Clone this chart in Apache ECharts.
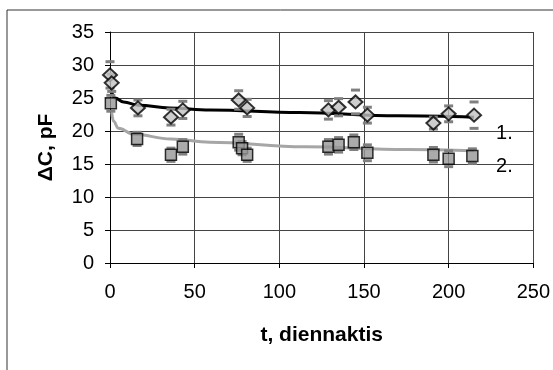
<!DOCTYPE html>
<html>
<head>
<meta charset="utf-8">
<script src="https://cdn.jsdelivr.net/npm/echarts@6/dist/echarts.min.js"></script>
<style>
  html, body { margin: 0; padding: 0; background: #fff; }
  #container { width: 553px; height: 370px; }
</style>
</head>
<body>
<div id="container"></div>
<script type="text/javascript">
// ---- data ----
var xTicks = [0, 50, 100, 150, 200, 250];
var yTicks = [0, 5, 10, 15, 20, 25, 30, 35];

// curve 1 (diamonds)
var t1 = [0, 1, 16.5, 36, 43, 76, 81, 129, 135, 145, 152, 191, 200, 215];
var c1 = [28.5, 27.3, 23.5, 22.1, 23.2, 24.7, 23.5, 23.2, 23.6, 24.4, 22.4, 21.2, 22.6, 22.4];
var e1 = [2.0, 1.3, 1.2, 1.2, 1.3, 1.4, 1.3, 1.4, 1.3, 1.8, 1.2, 0.9, 1.2, 2.0];

// curve 2 (squares)
var t2 = [0.5, 16, 36, 43, 76, 78, 81, 129, 135, 144, 152, 191, 200, 214];
var c2 = [24.2, 18.8, 16.4, 17.6, 18.3, 17.4, 16.4, 17.6, 17.9, 18.3, 16.7, 16.4, 15.8, 16.2];
var e2 = [1.2, 1.0, 1.0, 1.1, 1.2, 1.0, 1.0, 1.1, 1.1, 1.1, 1.2, 1.1, 1.2, 1.1];

// trend lines
var fitT1 = [1, 3, 8, 17, 35, 59, 112, 170, 215];
var fitC1 = [25.9, 25.0, 24.4, 23.9, 23.5, 23.2, 22.8, 22.3, 22.1];
var fitT2 = [1, 2, 5, 14, 36, 59, 115, 175, 215];
var fitC2 = [22.8, 21.5, 20.4, 19.5, 18.8, 18.3, 17.6, 17.2, 17.0];

var seriesNames = ['1.', '2.'];

function pairs(xs, ys) {
    var out = [];
    for (var i = 0; i < xs.length; i++) out.push([xs[i], ys[i]]);
    return out;
}
function errRows(xs, ys, es) {
    var out = [];
    for (var i = 0; i < xs.length; i++) out.push([xs[i], ys[i] - es[i], ys[i] + es[i]]);
    return out;
}

// error bar caps only (short gray dashes above and below)
function renderCaps(params, api) {
    var lo = api.coord([api.value(0), api.value(1)]);
    var hi = api.coord([api.value(0), api.value(2)]);
    var w = 4.5;
    var st = { stroke: '#808080', lineWidth: 3 };
    return {
        type: 'group',
        children: [
            { type: 'line', shape: { x1: lo[0] - w, y1: lo[1], x2: lo[0] + w, y2: lo[1] }, style: st },
            { type: 'line', shape: { x1: hi[0] - w, y1: hi[1], x2: hi[0] + w, y2: hi[1] }, style: st }
        ]
    };
}

var font = 'Liberation Sans, Arial, sans-serif';
var dom = document.getElementById('container');
var myChart = echarts.init(dom);

var option = {
    animation: false,
    backgroundColor: '#fff',
    textStyle: { fontFamily: font },
    graphic: [{
        type: 'rect',
        shape: { x: 7, y: 10, width: 700, height: 500 },
        style: { fill: 'none', stroke: '#333', lineWidth: 1 },
        z: -1
    }],
    grid: { left: 110, right: 19, top: 32, bottom: 107 },
    xAxis: {
        type: 'value',
        min: 0, max: 250, interval: 50,
        name: 't, diennaktis',
        nameLocation: 'middle',
        nameGap: 62,
        nameTextStyle: { fontSize: 21, fontWeight: 'bold', color: '#000', fontFamily: font },
        axisLine: { show: true, onZero: false, lineStyle: { color: '#000', width: 1 } },
        axisTick: { show: true, length: 5, lineStyle: { color: '#000' } },
        axisLabel: {
            fontSize: 20, color: '#000', margin: 19, fontFamily: font,
            formatter: function (v) { return xTicks.indexOf(v) >= 0 ? String(v) : ''; }
        },
        splitLine: { show: true, lineStyle: { color: '#444', width: 1 } }
    },
    yAxis: {
        type: 'value',
        min: 0, max: 35, interval: 5,
        name: 'ΔC, pF',
        nameLocation: 'middle',
        nameGap: 53,
        nameTextStyle: { fontSize: 21, fontWeight: 'bold', color: '#000', fontFamily: font },
        axisLine: { show: true, lineStyle: { color: '#000', width: 1 } },
        axisTick: { show: true, length: 5, lineStyle: { color: '#000' } },
        axisLabel: {
            fontSize: 20, color: '#000', margin: 16, fontFamily: font,
            formatter: function (v) { return yTicks.indexOf(v) >= 0 ? String(v) : ''; }
        },
        splitLine: { show: true, lineStyle: { color: '#444', width: 1 } }
    },
    series: [
        {
            name: seriesNames[0] + 'fit',
            type: 'line',
            data: pairs(fitT1, fitC1),
            smooth: 0.4,
            smoothMonotone: 'x',
            showSymbol: false,
            lineStyle: { color: '#000', width: 3 },
            endLabel: {
                show: true, formatter: seriesNames[0], fontSize: 20, color: '#000',
                fontFamily: font, offset: [14, 16]
            },
            z: 2
        },
        {
            name: seriesNames[1] + 'fit',
            type: 'line',
            data: pairs(fitT2, fitC2),
            smooth: 0.4,
            smoothMonotone: 'x',
            showSymbol: false,
            lineStyle: { color: '#a6a6a6', width: 3 },
            endLabel: {
                show: true, formatter: seriesNames[1], fontSize: 20, color: '#000',
                fontFamily: font, offset: [14, 16]
            },
            z: 2
        },
        {
            name: seriesNames[0] + 'err',
            type: 'custom',
            renderItem: renderCaps,
            encode: { x: 0, y: [1, 2] },
            data: errRows(t1, c1, e1),
            z: 3
        },
        {
            name: seriesNames[1] + 'err',
            type: 'custom',
            renderItem: renderCaps,
            encode: { x: 0, y: [1, 2] },
            data: errRows(t2, c2, e2),
            z: 3
        },
        {
            name: seriesNames[0],
            type: 'scatter',
            data: pairs(t1, c1),
            symbol: 'diamond',
            symbolSize: [14, 13],
            itemStyle: { color: '#c0c0c0', borderColor: '#000', borderWidth: 2 },
            z: 4
        },
        {
            name: seriesNames[1],
            type: 'scatter',
            data: pairs(t2, c2),
            symbol: 'rect',
            symbolSize: 11,
            itemStyle: { color: '#969696', borderColor: '#000', borderWidth: 1.5 },
            z: 4
        }
    ]
};

myChart.setOption(option);
</script>
</body>
</html>
